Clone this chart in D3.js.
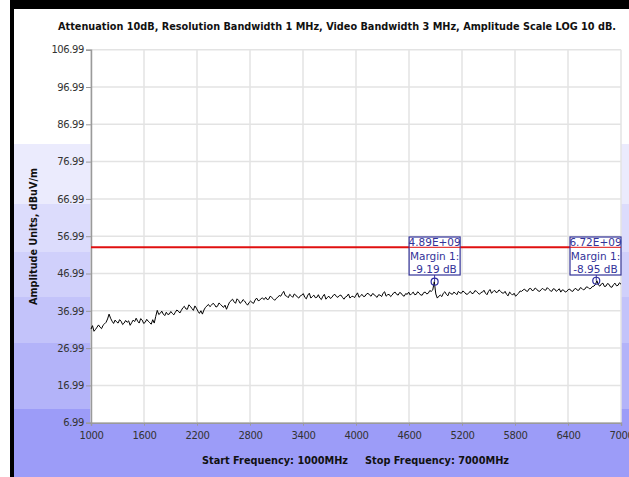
<!DOCTYPE html>
<html>
<head>
<meta charset="utf-8">
<script src="https://cdn.jsdelivr.net/npm/d3@7"></script>
<style>
  html, body { margin: 0; padding: 0; background: #ffffff; }
  svg { display: block; }
  text { font-family: Tahoma, "DejaVu Sans", sans-serif; }
</style>
</head>
<body>
<svg id="chart" width="629" height="477"></svg>
<script>
// ---------------- data ----------------
const chartTitle = "Attenuation 10dB, Resolution Bandwidth 1 MHz, Video Bandwidth 3 MHz, Amplitude Scale LOG 10 dB.";
const yAxisTitle = "Amplitude Units, dBuV/m";
const startLabel = "Start Frequency: 1000MHz";
const stopLabel = "Stop Frequency: 7000MHz";
const startFreq = 1000;   // MHz
const stopFreq = 7000;    // MHz
const yTicks = [6.99, 16.99, 26.99, 36.99, 46.99, 56.99, 66.99, 76.99, 86.99, 96.99, 106.99];
const xTicks = [1000, 1600, 2200, 2800, 3400, 4000, 4600, 5200, 5800, 6400, 7000];
const limitValue = 54;    // dBuV/m (red limit line)
// swept trace, evenly spaced from startFreq to stopFreq (dBuV/m)
const traceValues = [
  32.1, 33.0, 31.5, 32.0, 32.6, 33.2, 32.6, 32.2, 33.1, 33.5, 33.9, 34.8, 36.1, 35.0, 34.2, 33.6,
  34.5, 34.0, 33.7, 34.6, 34.2, 33.3, 33.7, 34.4, 33.9, 34.3, 33.1, 33.8, 34.5, 34.1, 35.0, 34.2,
  33.7, 34.9, 34.5, 33.6, 33.9, 34.7, 34.2, 33.8, 33.4, 34.6, 33.7, 35.5, 37.1, 36.0, 36.3, 36.9,
  36.1, 35.7, 36.6, 36.0, 36.1, 36.8, 36.3, 35.9, 36.6, 37.2, 36.9, 36.4,
  37.1, 37.8, 38.2, 37.5, 37.4, 38.6, 38.2, 37.6, 37.1, 38.3, 37.7, 36.9, 36.3, 37.0, 36.1, 37.2,
  37.9, 38.3, 38.7, 38.1, 38.5, 39.0, 38.7, 38.0, 38.2, 39.1, 38.7, 38.3, 37.9, 38.5, 37.4, 38.4,
  39.3, 39.7, 40.1, 39.4, 39.0, 40.2, 39.8, 39.0, 39.3, 40.0, 39.6, 39.0, 38.5, 39.2, 39.6, 39.2,
  39.0, 39.9, 40.4, 39.7, 39.8, 40.3, 40.4, 40.0,
  40.6, 40.0, 40.1, 40.9, 40.6, 40.2, 39.8, 40.3, 40.6, 41.1, 40.9, 41.6, 42.2, 41.1, 40.9, 40.5,
  41.4, 41.0, 40.6, 41.5, 41.2, 40.7, 40.4, 41.0, 41.2, 41.6, 40.6, 40.2, 41.2, 41.7, 40.4, 40.8,
  41.2, 40.5, 40.6, 41.3, 40.4, 40.0, 40.9, 41.4, 40.1, 40.6, 40.9, 40.3, 40.6, 41.2, 41.4, 40.8,
  40.6, 41.1, 41.2, 40.6, 40.1, 40.7, 40.9, 41.5, 40.4, 40.8, 40.9, 40.5,
  41.2, 41.8, 40.6, 41.0, 41.4, 40.8, 40.9, 41.5, 41.7, 41.2, 40.9, 41.6, 41.4, 40.9, 40.6, 41.3,
  41.2, 40.8, 41.7, 42.1, 40.9, 41.3, 41.4, 40.8, 41.2, 41.8, 42.0, 41.4, 41.2, 41.9, 41.7, 41.1,
  40.9, 41.6, 41.4, 42.0, 41.2, 41.6, 42.0, 41.3, 41.4, 42.1, 41.7, 41.2, 41.2, 41.9, 42.0, 41.5,
  41.7, 42.4, 42.2, 42.6,
  44.8, 41.5,
  40.4, 40.9, 41.2, 40.8, 41.7, 42.1, 41.4, 41.0, 42.0, 41.6, 41.4, 42.0, 41.7, 41.3, 42.2, 41.8,
  41.7, 42.3, 42.0, 41.5, 41.4, 41.9, 42.2, 41.6, 41.7, 42.4, 42.2, 41.8, 41.4, 41.9, 42.0, 42.5,
  41.7, 41.3, 42.2, 42.7, 41.7, 42.1, 42.5, 41.9, 42.0, 42.6, 42.2, 41.8, 41.7, 42.2, 41.4, 41.0,
  42.0, 41.6, 41.2, 41.7, 40.9, 41.3, 41.7, 42.3, 42.2, 42.6, 42.8, 42.3, 42.2, 42.9, 43.0, 42.4,
  42.5, 43.1, 42.8, 42.3, 42.2, 42.7, 43.0, 42.6, 42.5, 43.2, 42.8, 42.4, 42.2, 42.9, 42.8, 42.2,
  42.5, 42.9, 42.0, 42.6, 42.5, 42.0, 42.2, 42.7, 42.8, 42.3, 42.2, 42.8, 43.0, 42.5, 42.5, 43.2,
  43.0, 42.6, 42.8, 43.4, 43.3, 42.9, 43.0, 43.5, 43.6, 44.0,
  45.05, 43.9,
  43.6, 44.2, 44.4, 43.5, 43.6, 44.3, 44.1, 43.4, 43.3, 44.0, 44.4, 43.7, 43.8, 44.5, 44.1
];
// margin markers
const markerFreqLabels = ["4.89E+09", "6.72E+09"];
const markerFreqs = [4890, 6720];          // MHz
const markerMargins = [-9.19, -8.95];      // dB relative to limit
const markerNames = ["Margin 1:", "Margin 1:"];

// ---------------- layout ----------------
const W = 629, H = 477;
const plot = { left: 91, right: 621, top: 49.7, bottom: 422.7 };
const svg = d3.select("#chart");

// background bands (lavender gradient steps)
const bands = [
  { y0: 0,   y1: 144, c: "#ffffff" },
  { y0: 144, y1: 204, c: "#ebebfd" },
  { y0: 204, y1: 252, c: "#dcdcfc" },
  { y0: 252, y1: 297, c: "#d0d0fb" },
  { y0: 297, y1: 343, c: "#c3c3fa" },
  { y0: 343, y1: 409, c: "#b3b3f9" },
  { y0: 409, y1: 477, c: "#9c9cf8" }
];
svg.append("g").selectAll("rect").data(bands).join("rect")
  .attr("x", 14).attr("y", d => d.y0).attr("width", W - 14).attr("height", d => d.y1 - d.y0)
  .attr("fill", d => d.c);

// plot area
svg.append("rect").attr("x", plot.left).attr("y", plot.top)
  .attr("width", plot.right - plot.left).attr("height", plot.bottom - plot.top)
  .attr("fill", "#ffffff");

// black frame (window edges)
svg.append("rect").attr("x", 10).attr("y", 0).attr("width", W - 10).attr("height", 9).attr("fill", "#000");
svg.append("rect").attr("x", 10).attr("y", 0).attr("width", 4).attr("height", H).attr("fill", "#000");

// scales
const x = d3.scaleLinear().domain([startFreq, stopFreq]).range([plot.left, plot.right]);
const y = d3.scaleLinear().domain([yTicks[0], yTicks[yTicks.length - 1]]).range([plot.bottom, plot.top]);

// grid
const grid = svg.append("g");
grid.selectAll("line.h").data(yTicks).join("line").attr("class", "h")
  .attr("x1", plot.left).attr("x2", plot.right)
  .attr("y1", d => y(d)).attr("y2", d => y(d))
  .attr("stroke", "#e3e3e3").attr("stroke-width", 1.5);
grid.selectAll("line.v").data(xTicks).join("line").attr("class", "v")
  .attr("x1", d => x(d)).attr("x2", d => x(d))
  .attr("y1", plot.top).attr("y2", plot.bottom)
  .attr("stroke", "#e3e3e3").attr("stroke-width", 1.5);

// axes
const yAxis = svg.append("g").attr("transform", `translate(${plot.left},0)`)
  .call(d3.axisLeft(y).tickValues(yTicks).tickFormat(d => d.toFixed(2)).tickSize(5).tickPadding(2));
const xAxis = svg.append("g").attr("transform", `translate(0,${plot.bottom})`)
  .call(d3.axisBottom(x).tickValues(xTicks).tickFormat(d3.format("d")).tickSize(3).tickPadding(6));
[yAxis, xAxis].forEach(a => {
  a.select(".domain").attr("stroke", "#9a9a9a").attr("stroke-width", 1.5);
  a.selectAll(".tick line").attr("stroke", "#9a9a9a");
  a.selectAll(".tick text").attr("fill", "#333").attr("font-size", 10).attr("letter-spacing", -0.4)
    .attr("font-family", "Tahoma, 'DejaVu Sans', sans-serif");
});

// limit line
svg.append("line").attr("x1", plot.left).attr("x2", plot.right)
  .attr("y1", y(limitValue)).attr("y2", y(limitValue))
  .attr("stroke", "#e01010").attr("stroke-width", 2);

// trace
const n = traceValues.length;
const traceData = traceValues.map((v, i) => ({ f: startFreq + i * (stopFreq - startFreq) / (n - 1), v }));
svg.append("path").datum(traceData)
  .attr("fill", "none").attr("stroke", "#000").attr("stroke-width", 1)
  .attr("d", d3.line().x(d => x(d.f)).y(d => y(d.v)));

// markers
const mk = markerFreqs.map((f, i) => ({ f, v: limitValue + markerMargins[i], lab: markerFreqLabels[i], name: markerNames[i], m: markerMargins[i] }));
const mg = svg.append("g").selectAll("g").data(mk).join("g");
const boxW = 51, boxTop = 237, boxBot = 275;
mg.append("line")
  .attr("x1", d => x(d.f)).attr("x2", d => x(d.f))
  .attr("y1", boxBot).attr("y2", d => y(d.v))
  .attr("stroke", "#333399").attr("stroke-width", 1);
mg.append("circle").attr("cx", d => x(d.f)).attr("cy", d => y(d.v)).attr("r", 3.5)
  .attr("fill", "none").attr("stroke", "#2a2aa0").attr("stroke-width", 1.2);
mg.append("rect")
  .attr("x", d => Math.min(x(d.f) - boxW / 2, plot.right - boxW)).attr("y", boxTop)
  .attr("width", boxW).attr("height", boxBot - boxTop)
  .attr("fill", "#ffffff").attr("stroke", "#333399").attr("stroke-width", 1.2);
const tx = d => Math.min(x(d.f), plot.right - boxW / 2);
[[d => d.lab, 245.5], [d => d.name, 260], [d => d.m.toFixed(2) + " dB", 273]].forEach(([fn, yy]) => {
  mg.append("text").attr("x", tx).attr("y", yy).attr("text-anchor", "middle")
    .attr("font-size", 10.5).attr("fill", "#333399").text(fn);
});
// red line shows through the first label line in reference
svg.append("g").selectAll("line").data(mk).join("line")
  .attr("x1", d => Math.min(x(d.f) - boxW / 2, plot.right - boxW)).attr("x2", d => Math.min(x(d.f) + boxW / 2, plot.right))
  .attr("y1", y(limitValue)).attr("y2", y(limitValue))
  .attr("stroke", "#e01010").attr("stroke-width", 1.2).attr("opacity", 0.8);

// titles
svg.append("text").attr("x", 337).attr("y", 30).attr("text-anchor", "middle")
  .attr("font-size", 11).attr("font-weight", "bold").attr("fill", "#111")
  .attr("textLength", 558).attr("lengthAdjust", "spacingAndGlyphs").text(chartTitle);
svg.append("text").attr("transform", "translate(37,236.5) rotate(-90)").attr("text-anchor", "middle")
  .attr("font-size", 10.5).attr("font-weight", "bold").attr("fill", "#111")
  .attr("textLength", 137).attr("lengthAdjust", "spacingAndGlyphs").text(yAxisTitle);
svg.append("text").attr("x", 202).attr("y", 464)
  .attr("font-size", 10.5).attr("font-weight", "bold").attr("fill", "#111")
  .attr("textLength", 146).attr("lengthAdjust", "spacingAndGlyphs").text(startLabel);
svg.append("text").attr("x", 365).attr("y", 464)
  .attr("font-size", 10.5).attr("font-weight", "bold").attr("fill", "#111")
  .attr("textLength", 144).attr("lengthAdjust", "spacingAndGlyphs").text(stopLabel);
</script>
</body>
</html>
